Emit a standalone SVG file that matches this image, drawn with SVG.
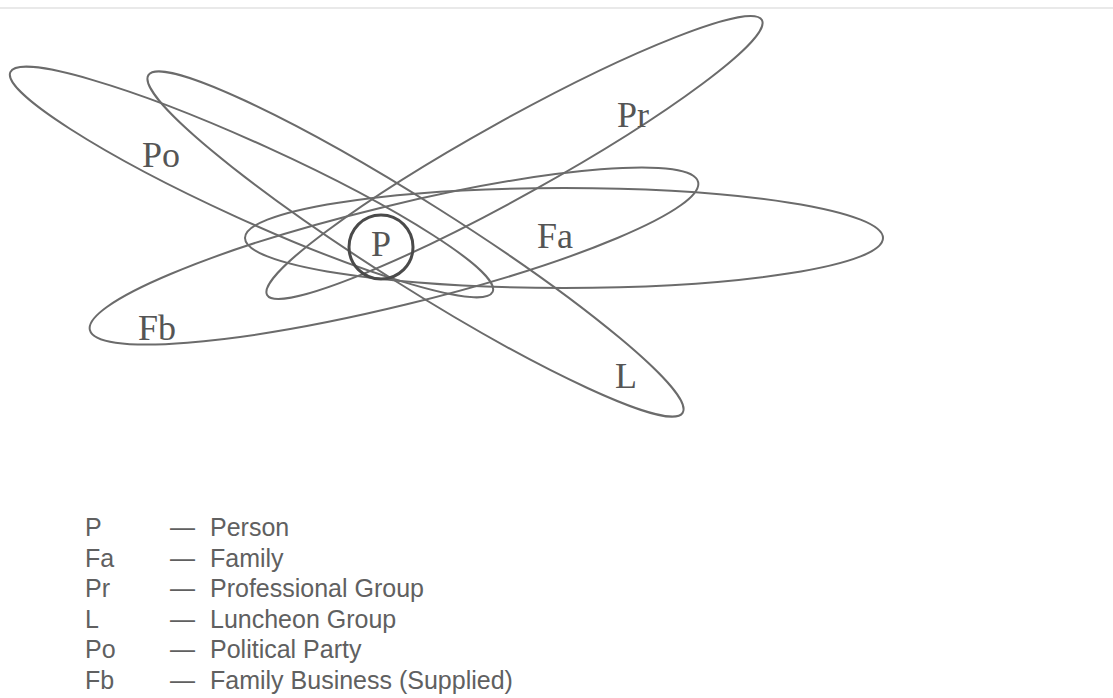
<svg xmlns="http://www.w3.org/2000/svg" width="1113" height="698" viewBox="0 0 1113 698">
<style>
.grp{fill:none;stroke:#6b6b6b;stroke-width:2}
.person{fill:none;stroke:#4a4a4a;stroke-width:3}
.lbl{font-family:"Liberation Serif",serif;font-size:36px;fill:#555}
.leg{font-family:"Liberation Sans",Arial,sans-serif;font-size:25px;fill:#606060}
</style>
<rect x="0" y="0" width="1113" height="698" fill="#ffffff"/>
<line x1="0" y1="8" x2="1113" y2="8" stroke="#e2e2e2" stroke-width="1.5"/>
<g id="connectors"></g>
<g id="Po">
<ellipse class="grp" cx="251.5" cy="182" rx="265" ry="38" transform="rotate(24.5 251.5 182)"/>
<text class="lbl" x="142" y="167">Po</text>
</g>
<g id="L">
<ellipse class="grp" cx="415.5" cy="244" rx="316" ry="42" transform="rotate(32.3 415.5 244)"/>
<text class="lbl" x="615" y="388">L</text>
</g>
<g id="Pr">
<ellipse class="grp" cx="514.5" cy="157.5" rx="283" ry="38" transform="rotate(-29.05 514.5 157.5)"/>
<text class="lbl" x="617" y="127">Pr</text>
</g>
<g id="Fb">
<ellipse class="grp" cx="394" cy="256" rx="313" ry="50" transform="rotate(-13.68 394 256)"/>
<text class="lbl" x="138" y="340">Fb</text>
</g>
<g id="Fa">
<ellipse class="grp" cx="564" cy="238" rx="319" ry="50"/>
<text class="lbl" x="537" y="248">Fa</text>
</g>
<g id="P">
<circle class="person" cx="381" cy="247" r="32"/>
<text class="lbl" x="381" y="256" text-anchor="middle">P</text>
</g>
<g id="legend">
<text class="leg" x="85" y="536">P</text><text class="leg" x="170" y="536">—</text><text class="leg" x="210" y="536">Person</text>
<text class="leg" x="85" y="566.5">Fa</text><text class="leg" x="170" y="566.5">—</text><text class="leg" x="210" y="566.5">Family</text>
<text class="leg" x="85" y="597">Pr</text><text class="leg" x="170" y="597">—</text><text class="leg" x="210" y="597">Professional Group</text>
<text class="leg" x="85" y="627.5">L</text><text class="leg" x="170" y="627.5">—</text><text class="leg" x="210" y="627.5">Luncheon Group</text>
<text class="leg" x="85" y="658">Po</text><text class="leg" x="170" y="658">—</text><text class="leg" x="210" y="658">Political Party</text>
<text class="leg" x="85" y="688.5">Fb</text><text class="leg" x="170" y="688.5">—</text><text class="leg" x="210" y="688.5">Family Business (Supplied)</text>
</g>
</svg>
